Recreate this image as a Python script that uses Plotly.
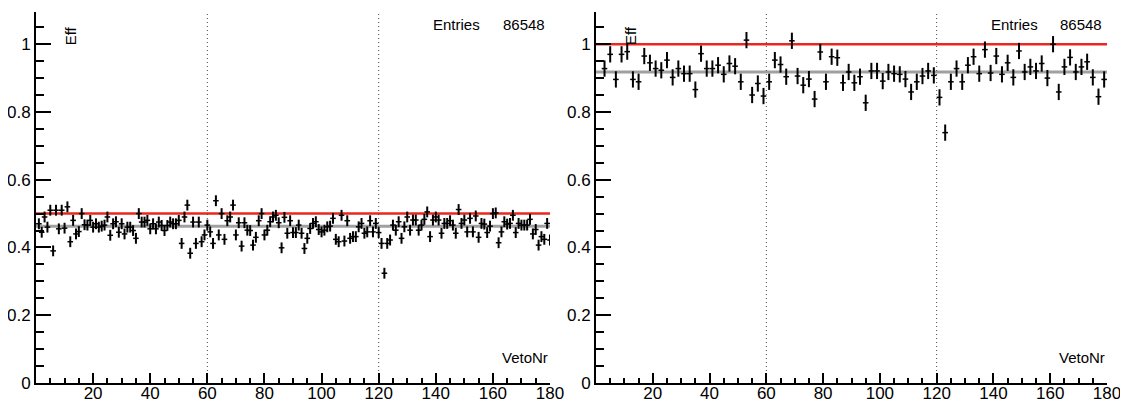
import plotly.graph_objects as go

# left panel: efficiency per veto channel (x = 1..180)
left_x = list(range(1, 181))
left_eff = [
    0.470, 0.445, 0.490, 0.460, 0.510, 0.390, 0.510, 0.455, 0.510, 0.457,
    0.520, 0.417, 0.480, 0.440, 0.447, 0.500, 0.467, 0.466, 0.480, 0.460,
    0.470, 0.460, 0.463, 0.466, 0.490, 0.436, 0.470, 0.476, 0.445, 0.470,
    0.440, 0.460, 0.460, 0.450, 0.427, 0.500, 0.475, 0.475, 0.480, 0.455,
    0.470, 0.455, 0.475, 0.465, 0.450, 0.465, 0.475, 0.470, 0.470, 0.480,
    0.412, 0.490, 0.525, 0.383, 0.475, 0.412, 0.475, 0.417, 0.437, 0.466,
    0.446, 0.412, 0.538, 0.437, 0.500, 0.424, 0.479, 0.490, 0.525, 0.437,
    0.473, 0.404, 0.473, 0.451, 0.450, 0.407, 0.430, 0.479, 0.500, 0.437,
    0.451, 0.476, 0.490, 0.495, 0.473, 0.399, 0.489, 0.442, 0.479, 0.444,
    0.444, 0.466, 0.442, 0.397, 0.427, 0.456, 0.471, 0.476, 0.453, 0.446,
    0.451, 0.461, 0.463, 0.486, 0.424, 0.417, 0.495, 0.419, 0.479, 0.427,
    0.432, 0.432, 0.461, 0.471, 0.442, 0.446, 0.479, 0.446, 0.471, 0.444,
    0.412, 0.324, 0.412, 0.422, 0.466, 0.451, 0.476, 0.427, 0.461, 0.490,
    0.451, 0.481, 0.481, 0.451, 0.466, 0.483, 0.505, 0.432, 0.481, 0.490,
    0.481, 0.442, 0.471, 0.471, 0.479, 0.466, 0.442, 0.512, 0.471, 0.481,
    0.446, 0.486, 0.446, 0.493, 0.430, 0.471, 0.469, 0.444, 0.463, 0.500,
    0.502, 0.414, 0.446, 0.476, 0.469, 0.471, 0.495, 0.444, 0.471, 0.466,
    0.466, 0.466, 0.483, 0.440, 0.453, 0.407, 0.432, 0.424, 0.471, 0.422,
]
left_err = 0.016
left_ref = 0.5
left_mean = 0.463

# right panel: efficiency per pair of channels (x = 3, 5, ..., 179)
right_x = list(range(3, 180, 2))
right_eff = [
    0.928, 0.970, 0.896, 0.970, 0.978, 0.896, 0.889, 0.965, 0.945, 0.928,
    0.923, 0.953, 0.902, 0.928, 0.913, 0.913, 0.866, 0.972, 0.928, 0.928,
    0.938, 0.911, 0.943, 0.935, 0.889, 1.012, 0.850, 0.884, 0.847, 0.889,
    0.953, 0.940, 0.904, 1.010, 0.906, 0.879, 0.897, 0.838, 0.977, 0.889,
    0.963, 0.960, 0.886, 0.918, 0.886, 0.904, 0.827, 0.921, 0.921, 0.891,
    0.918, 0.913, 0.911, 0.897, 0.859, 0.889, 0.906, 0.921, 0.908, 0.843,
    0.739, 0.889, 0.928, 0.889, 0.938, 0.963, 0.913, 0.984, 0.915, 0.965,
    0.911, 0.945, 0.902, 0.980, 0.918, 0.933, 0.921, 0.943, 0.900, 1.000,
    0.859, 0.933, 0.961, 0.918, 0.933, 0.948, 0.902, 0.845, 0.896,
]
right_err = 0.024
right_ref = 1.0
right_mean = 0.918

entries = 86548
x_labels = [20, 40, 60, 80, 100, 120, 140, 160, 180]
y_labels = [0, 0.2, 0.4, 0.6, 0.8, 1.0]
y_text = ['0', '0.2', '0.4', '0.6', '0.8', '1']
sector_edges = [60, 120]

# the page body has an 8px margin, so the figure is laid out 8px in from the window edge
OFF = 8
W, H = 1128 - OFF, 401 - OFF
FONT = 'Liberation Sans, Arial, Helvetica, sans-serif'

fig = go.Figure()

panels = [
    ('x', 'y', left_x, left_eff, left_err, left_ref, left_mean),
    ('x2', 'y2', right_x, right_eff, right_err, right_ref, right_mean),
]
for xa, ya, xs, ys, err, ref, mean in panels:
    fig.add_trace(go.Scatter(
        x=[0, 180], y=[mean, mean], mode='lines', xaxis=xa, yaxis=ya,
        line=dict(color='#a0a0a0', width=3), showlegend=False, hoverinfo='skip'
    ))
    fig.add_trace(go.Scatter(
        x=[0, 180], y=[ref, ref], mode='lines', xaxis=xa, yaxis=ya,
        line=dict(color='#e8281e', width=2.5), showlegend=False, hoverinfo='skip'
    ))
    for e in sector_edges:
        fig.add_trace(go.Scatter(
            x=[e, e], y=[0, 1.095], mode='lines', xaxis=xa, yaxis=ya,
            line=dict(color='#444444', width=1, dash='1px,3px'),
            showlegend=False, hoverinfo='skip'
        ))
    fig.add_trace(go.Scatter(
        x=xs, y=ys, mode='markers', xaxis=xa, yaxis=ya,
        marker=dict(symbol='line-ew', size=4, line=dict(color='black', width=1.5)),
        error_y=dict(type='constant', value=err, color='black', thickness=2, width=0),
        showlegend=False
    ))

xdoms = [[(36 - OFF) / W, (550 - OFF) / W], [(596 - OFF) / W, (1107 - OFF) / W]]
ydom = [(401 - 383) / H, (H - (12 - OFF)) / H]

axis_font = dict(family=FONT, size=17, color='black')
for i, dom in enumerate(xdoms):
    sfx = '' if i == 0 else str(i + 1)
    fig.update_layout(**{
        'xaxis' + sfx: dict(
            domain=dom, range=[0, 180], anchor='y' + sfx, automargin=False,
            showgrid=False, zeroline=False, showline=True,
            linecolor='black', linewidth=2,
            tickmode='array', tickvals=x_labels,
            ticks='inside', ticklen=10, tickwidth=1.5, tickcolor='black',
            tickfont=axis_font, ticklabelstandoff=-6,
            minor=dict(tickmode='array', tickvals=list(range(0, 181, 5)),
                       ticks='inside', ticklen=5, tickwidth=1.5, tickcolor='black'),
        ),
        'yaxis' + sfx: dict(
            domain=ydom, range=[0, 1.095], anchor='x' + sfx, automargin=False,
            showgrid=False, zeroline=False, showline=True,
            linecolor='black', linewidth=2,
            tickmode='array', tickvals=y_labels, ticktext=y_text,
            ticks='inside', ticklen=15, tickwidth=1.5, tickcolor='black',
            tickfont=axis_font,
            minor=dict(tickmode='array',
                       tickvals=[round(0.05 * k, 2) for k in range(22)],
                       ticks='inside', ticklen=8, tickwidth=1.5, tickcolor='black'),
        ),
    })

    xr, yr = 'x' + sfx, 'y' + sfx
    txt = dict(family=FONT, size=15, color='black')
    fig.add_annotation(x=12, y=1.058, xref=xr, yref=yr, text='Eff', textangle=-90,
                       showarrow=False, xanchor='center', yanchor='top', font=txt)
    fig.add_annotation(x=180, y=0.074, xref=xr, yref=yr, text='VetoNr',
                       showarrow=False, xanchor='right', yanchor='middle', font=txt)
    fig.add_annotation(x=138.5, y=1.058, xref=xr, yref=yr, text='Entries',
                       showarrow=False, xanchor='left', yanchor='middle', font=txt)
    fig.add_annotation(x=179, y=1.058, xref=xr, yref=yr, text=str(entries),
                       showarrow=False, xanchor='right', yanchor='middle', font=txt)

fig.update_layout(
    width=W, height=H,
    margin=dict(l=0, r=0, t=0, b=0),
    paper_bgcolor='white', plot_bgcolor='white',
    font=dict(family=FONT),
)

fig.write_html('out.html')
